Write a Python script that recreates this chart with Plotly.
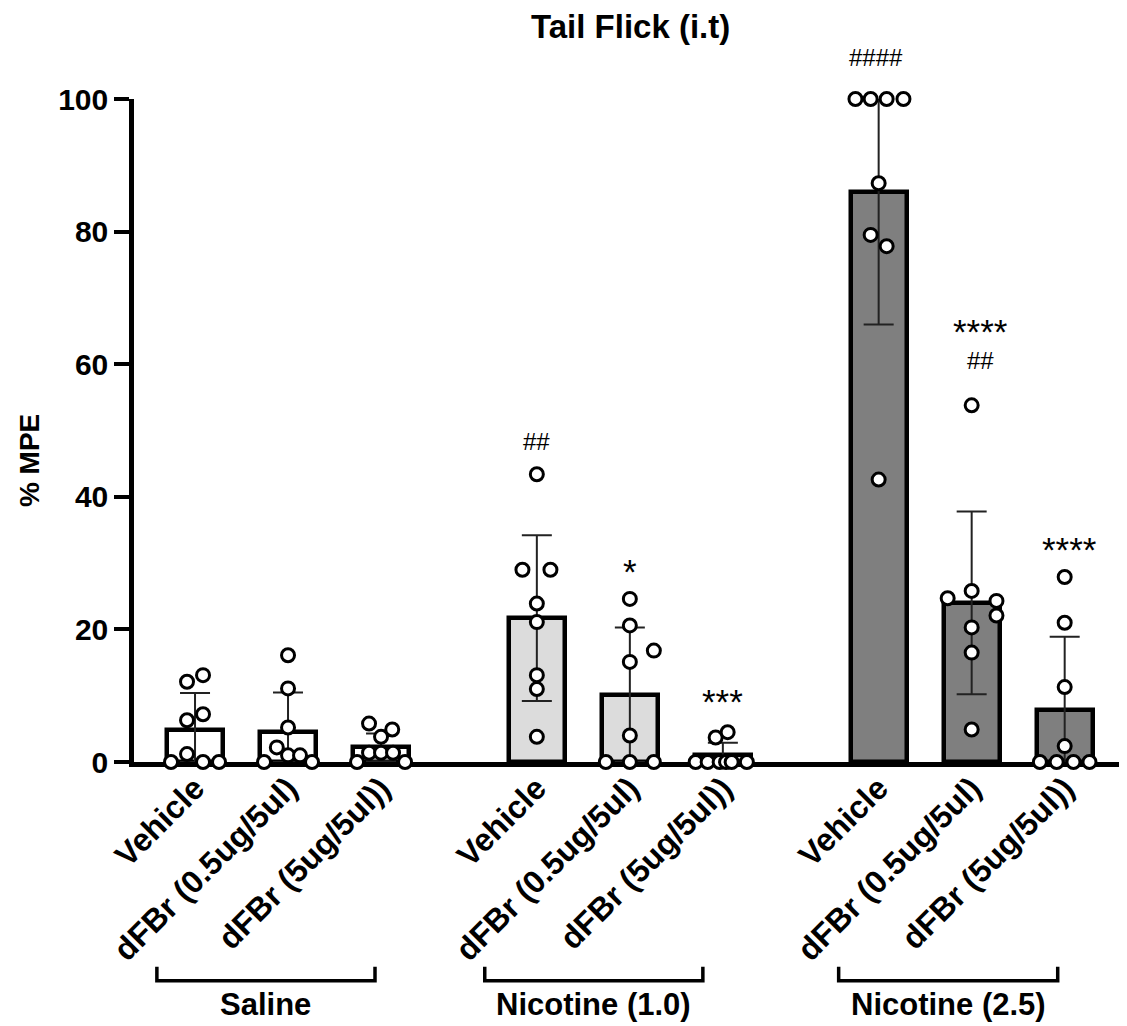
import plotly.graph_objects as go
import numpy as np

# ---------------- data ----------------
groups = ["Saline", "Nicotine (1.0)", "Nicotine (2.5)"]
treatments = ["Vehicle", "dFBr (0.5ug/5ul)", "dFBr (5ug/5ul))"]

means_saline = [4.9, 4.5, 2.2]
means_nic10 = [21.7, 10.1, 1.0]
means_nic25 = [85.9, 24.0, 7.8]

sd_saline = [5.5, 6.0, 2.1]
sd_nic10 = [12.5, 10.2, 1.9]
sd_nic25 = [19.9, 13.8, 11.1]

pts_saline = [
    [0, 1.2, 0, 0, 6.3, 7.2, 12.1, 13.1],
    [0, 2.2, 1.0, 1.0, 0, 5.2, 11.1, 16.1],
    [0, 0, 1.4, 1.4, 1.4, 3.8, 5.8, 4.9],
]
pts_nic10 = [
    [43.4, 29.0, 29.0, 23.9, 21.1, 13.1, 11.0, 3.8],
    [24.6, 20.6, 16.8, 15.1, 4.0, 0, 0, 0],
    [0, 0, 0, 0, 0, 0, 3.7, 4.5],
]
pts_nic25 = [
    [100, 100, 100, 100, 87.3, 79.5, 77.8, 42.6],
    [53.8, 25.8, 24.7, 24.3, 22.1, 20.3, 16.5, 4.9],
    [27.9, 21.0, 11.3, 2.4, 0, 0, 0, 0],
]

# significance marks: (group index, treatment index, text, y value)
sig_marks = [
    (1, 0, "##", 48.3),
    (1, 1, "*", 30.0),
    (1, 2, "***", 10.5),
    (2, 0, "####", 106.3),
    (2, 1, "****", 66.3),
    (2, 1, "##", 60.6),
    (2, 2, "****", 33.3),
]

# ---------------- layout helpers (positions / styles) ----------------
# horizontal slot offsets of the dots (in dot-widths), per bar
slots = [
    [[-1.5, -0.5, 0.5, 1.5, -0.5, 0.5, -0.5, 0.5],
     [-1.5, -0.7, 0, 0.75, 1.5, 0, 0, 0],
     [-1.5, 1.5, -0.75, 0, 0.75, 0, -0.75, 0.7]],
    [[0, -0.9, 0.85, 0, 0, 0, 0, 0],
     [0, 0, 1.5, 0, 0, -1.5, 0, 1.5],
     [-1.7, -0.95, -0.2, 0.2, 0.55, 1.5, -0.45, 0.3]],
    [[-1.45, -0.5, 0.5, 1.55, 0, -0.5, 0.5, 0],
     [0, 0, -1.5, 1.55, 1.55, 0, 0, 0],
     [0, 0, 0, 0, -1.55, -0.5, 0.55, 1.55]],
]
sig_dx = {(1, 0): 0, (1, 1): 0, (1, 2): 0, (2, 0): -0.03, (2, 1): 0.1, (2, 2): 0.05}
# bracket ends relative to first / last bar of each group (x units)
bracket_ends = [(-0.41, -0.065), (-0.56, -0.215), (-0.43, -0.075)]

GROUP_GAP = 3.675
SLOT = 0.172
fills = ["#ffffff", "#dcdcdc", "#7f7f7f"]
FONT = "Liberation Sans, Arial, Helvetica, sans-serif"

all_means = [means_saline, means_nic10, means_nic25]
all_sd = [sd_saline, sd_nic10, sd_nic25]
all_pts = [pts_saline, pts_nic10, pts_nic25]

fig = go.Figure()

tickvals, ticktext = [], []
for g in range(3):
    xs = [g * GROUP_GAP + i for i in range(3)]
    m = np.array(all_means[g])
    sd = np.array(all_sd[g])
    fig.add_trace(go.Bar(
        x=xs, y=m, width=0.6,
        marker=dict(color=fills[g], line=dict(color="black", width=4.5)),
        error_y=dict(type="data", symmetric=False, array=sd,
                     arrayminus=np.minimum(sd, m), color="#222222",
                     thickness=2, width=15),
        showlegend=False, hoverinfo="skip",
    ))
    tickvals += xs
    ticktext += treatments

for g in range(3):
    for i in range(3):
        x0 = g * GROUP_GAP + i
        px = [x0 + s * SLOT for s in slots[g][i]]
        fig.add_trace(go.Scatter(
            x=px, y=all_pts[g][i], mode="markers", cliponaxis=False,
            marker=dict(symbol="circle", size=13, color="white",
                        line=dict(color="black", width=3)),
            showlegend=False, hoverinfo="skip",
        ))

annotations = []
for g, i, txt, yv in sig_marks:
    is_star = txt.startswith("*")
    annotations.append(dict(
        x=g * GROUP_GAP + i + sig_dx[(g, i)],
        y=(yv - (1.3 if is_star else 0)) / 100.0, xref="x", yref="paper",
        text=txt, showarrow=False, xanchor="center", yanchor="middle",
        font=dict(family=FONT, size=35 if is_star else 24, color="black"),
    ))

shapes = []
for g in range(3):
    xl = g * GROUP_GAP + bracket_ends[g][0]
    xr = g * GROUP_GAP + 2 + bracket_ends[g][1]
    shapes.append(dict(type="path", xref="x", yref="paper",
                       path=f"M {xl},-0.309 L {xl},-0.330 L {xr},-0.330 L {xr},-0.309",
                       line=dict(color="black", width=3.5)))
    annotations.append(dict(
        x=(xl + xr) / 2, y=-0.366, xref="x", yref="paper", text=f"<b>{groups[g]}</b>",
        showarrow=False, xanchor="center", yanchor="middle",
        font=dict(family=FONT, size=31, color="black"),
    ))

annotations.append(dict(
    x=0.5, y=1.1086, xref="paper", yref="paper", text="<b>Tail Flick (i.t)</b>",
    showarrow=False, xanchor="center", yanchor="middle",
    font=dict(family=FONT, size=33, color="black"),
))
annotations.append(dict(
    x=-0.105, y=0.455, xref="paper", yref="paper", text="<b>% MPE</b>", textangle=-90,
    showarrow=False, xanchor="center", yanchor="middle",
    font=dict(family=FONT, size=28, color="black"),
))

# the page body has an 8px margin: the figure is sized/offset to compensate
fig.update_layout(
    width=1119, height=1018,
    margin=dict(l=126, r=0, t=91, b=264),
    plot_bgcolor="white", paper_bgcolor="white",
    font=dict(family=FONT, color="black"),
    annotations=annotations, shapes=shapes,
    bargap=0,
)
fig.update_xaxes(
    range=[-0.656, 10.02], showline=True, linecolor="black", linewidth=4.5,
    ticks="", tickvals=tickvals, ticktext=[f"<b>{t}</b>" for t in ticktext],
    tickangle=-45, tickfont=dict(family=FONT, size=32, color="black"),
    ticklabelstandoff=-10,
    showgrid=False, zeroline=False, layer="below traces", automargin=False,
)
fig.update_yaxes(
    range=[0, 100], showline=True, linecolor="black", linewidth=4.5,
    ticks="outside", ticklen=15, tickwidth=4, tickcolor="black",
    tickvals=[0, 20, 40, 60, 80, 100],
    ticktext=["<b>0</b>", "<b>20</b>", "<b>40</b>", "<b>60</b>", "<b>80</b>", "<b>100</b>"],
    tickfont=dict(family=FONT, size=30, color="black"),
    showgrid=False, zeroline=False, layer="below traces", automargin=False,
)

fig.write_html("out.html")
